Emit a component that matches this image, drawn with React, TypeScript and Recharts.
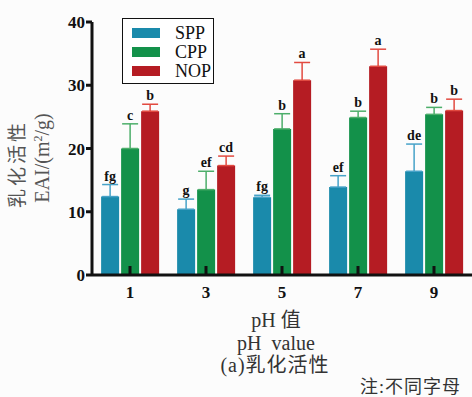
import React from "react";
import {
  BarChart,
  Bar,
  XAxis,
  YAxis,
  ErrorBar,
  LabelList,
  Legend,
  Customized,
} from "recharts";

const phLevels = ["1", "3", "5", "7", "9"];

const seriesNames = ["SPP", "CPP", "NOP"];

const sppMean = [12.4, 10.4, 12.3, 13.9, 16.4];
const sppErr = [1.9, 1.6, 0.3, 1.8, 4.3];
const sppLetters = ["fg", "g", "fg", "ef", "de"];

const cppMean = [20.0, 13.5, 23.1, 24.9, 25.4];
const cppErr = [3.9, 2.9, 2.4, 1.0, 1.1];
const cppLetters = ["c", "ef", "b", "b", "b"];

const nopMean = [25.9, 17.3, 30.8, 33.0, 26.0];
const nopErr = [1.1, 1.5, 2.8, 2.7, 1.8];
const nopLetters = ["b", "cd", "a", "a", "b"];

const yTicks = [0, 10, 20, 30, 40];

const SERIF = '"Liberation Serif", "Times New Roman", "Noto Sans CJK SC", serif';
const INK = "#111";

const chartData = phLevels.map((ph, i) => ({
  ph,
  spp: sppMean[i],
  sppErr: [0, sppErr[i]],
  cpp: cppMean[i],
  cppErr: [0, cppErr[i]],
  nop: nopMean[i],
  nopErr: [0, nopErr[i]],
}));

// letter above each error-bar cap; pixel size per unit comes from the bar itself
const letterLabel =
  (letters: string[], means: number[], errs: number[]) => (props: any) => {
    const x = Number(props.x);
    const y = Number(props.y);
    const width = Number(props.width);
    const height = Number(props.height);
    const i = props.index;
    const perUnit = height / means[i];
    const capY = y - errs[i] * perUnit;
    return (
      <text
        x={x + width / 2}
        y={capY - 4}
        textAnchor="middle"
        fontFamily={SERIF}
        fontWeight="bold"
        fontSize={14}
        fill={INK}
      >
        {letters[i]}
      </text>
    );
  };

const PhTick = (props: any) => {
  const { x, y, payload } = props;
  return (
    <g>
      <line x1={x} y1={y - 1} x2={x} y2={y - 9} stroke={INK} strokeWidth={3} />
      <text
        x={x}
        y={y + 23}
        textAnchor="middle"
        fontFamily={SERIF}
        fontWeight="bold"
        fontSize={17}
        fill={INK}
      >
        {payload.value}
      </text>
    </g>
  );
};

const LegendBox = (props: any) => {
  const items = [...(props.payload || [])].sort(
    (a: any, b: any) => seriesNames.indexOf(a.value) - seriesNames.indexOf(b.value)
  );
  return (
    <div
      style={{
        width: 90,
        height: 64,
        border: "1px solid #111",
        background: "#fff",
        position: "relative",
        fontFamily: SERIF,
      }}
    >
      {items.map((it: any, i: number) => (
        <div
          key={it.value}
          style={{ position: "absolute", left: 0, top: 5 + i * 19, height: 19, width: 90 }}
        >
          <div
            style={{
              position: "absolute",
              left: 9,
              top: 4,
              width: 28,
              height: 10,
              background: it.color,
            }}
          />
          <span
            style={{
              position: "absolute",
              left: 52,
              top: -1,
              fontSize: 18,
              lineHeight: "20px",
              color: INK,
            }}
          >
            {it.value}
          </span>
        </div>
      ))}
    </div>
  );
};

const Captions = () => (
  <g fontFamily={SERIF}>
    <text
      transform="translate(24,164) rotate(-90)"
      textAnchor="middle"
      fontSize={19}
      fill="#555"
      letterSpacing={3}
    >
      乳化活性
    </text>
    <text
      transform="translate(49,158) rotate(-90)"
      textAnchor="middle"
      fontSize={20}
      fill="#555"
    >
      EAI/(m<tspan dy={-7} fontSize={12}>2</tspan>
      <tspan dy={7}>/g)</tspan>
    </text>
    <text x={276} y={327} textAnchor="middle" fontSize={20} fill="#333">
      pH 值
    </text>
    <text x={276} y={350} textAnchor="middle" fontSize={20} fill="#333" xmlSpace="preserve">
      pH  value
    </text>
    <text x={275} y={372} textAnchor="middle" fontSize={20} fill="#333" letterSpacing={1}>
      (a)乳化活性
    </text>
    <text x={360} y={393} fontSize={18} fill="#333" letterSpacing={1}>
      注:不同字母
    </text>
  </g>
);

export default function App() {
  return (
    <div
      style={{
        position: "absolute",
        left: 0,
        top: 0,
        width: 472,
        height: 397,
        background: "#fcfcfc",
        overflow: "hidden",
      }}
    >
      <BarChart
        width={472}
        height={397}
        data={chartData}
        margin={{ top: 22, right: 0, left: 0, bottom: 92 }}
        barCategoryGap="12%"
        barGap={2}
      >
        <XAxis
          dataKey="ph"
          height={30}
          axisLine={{ stroke: INK, strokeWidth: 3 }}
          tickLine={false}
          tickSize={0}
          tickMargin={0}
          tick={<PhTick />}
          interval={0}
        />
        <YAxis
          width={92}
          domain={[0, 40]}
          ticks={yTicks}
          axisLine={{ stroke: INK, strokeWidth: 3 }}
          tickLine={{ stroke: INK, strokeWidth: 3 }}
          tickSize={6}
          tickMargin={1}
          tick={{ fontFamily: SERIF, fontWeight: "bold", fontSize: 17, fill: INK }}
        />
        <Legend
          layout="horizontal"
          verticalAlign="middle"
          align="center"
          content={<LegendBox />}
          wrapperStyle={{ position: "absolute", left: 122, top: 18, width: 92, height: 66 }}
        />
        <Bar dataKey="spp" name="SPP" fill="#1a8aab" isAnimationActive={false}>
          <ErrorBar dataKey="sppErr" width={8} stroke="#46a2c8" strokeWidth={1.5} />
          <LabelList dataKey="spp" content={letterLabel(sppLetters, sppMean, sppErr)} />
        </Bar>
        <Bar dataKey="cpp" name="CPP" fill="#13914a" isAnimationActive={false}>
          <ErrorBar dataKey="cppErr" width={8} stroke="#4cae6a" strokeWidth={1.5} />
          <LabelList dataKey="cpp" content={letterLabel(cppLetters, cppMean, cppErr)} />
        </Bar>
        <Bar dataKey="nop" name="NOP" fill="#b51c23" isAnimationActive={false}>
          <ErrorBar dataKey="nopErr" width={8} stroke="#e24a40" strokeWidth={1.5} />
          <LabelList dataKey="nop" content={letterLabel(nopLetters, nopMean, nopErr)} />
        </Bar>
        <Customized component={<Captions />} />
      </BarChart>
    </div>
  );
}
